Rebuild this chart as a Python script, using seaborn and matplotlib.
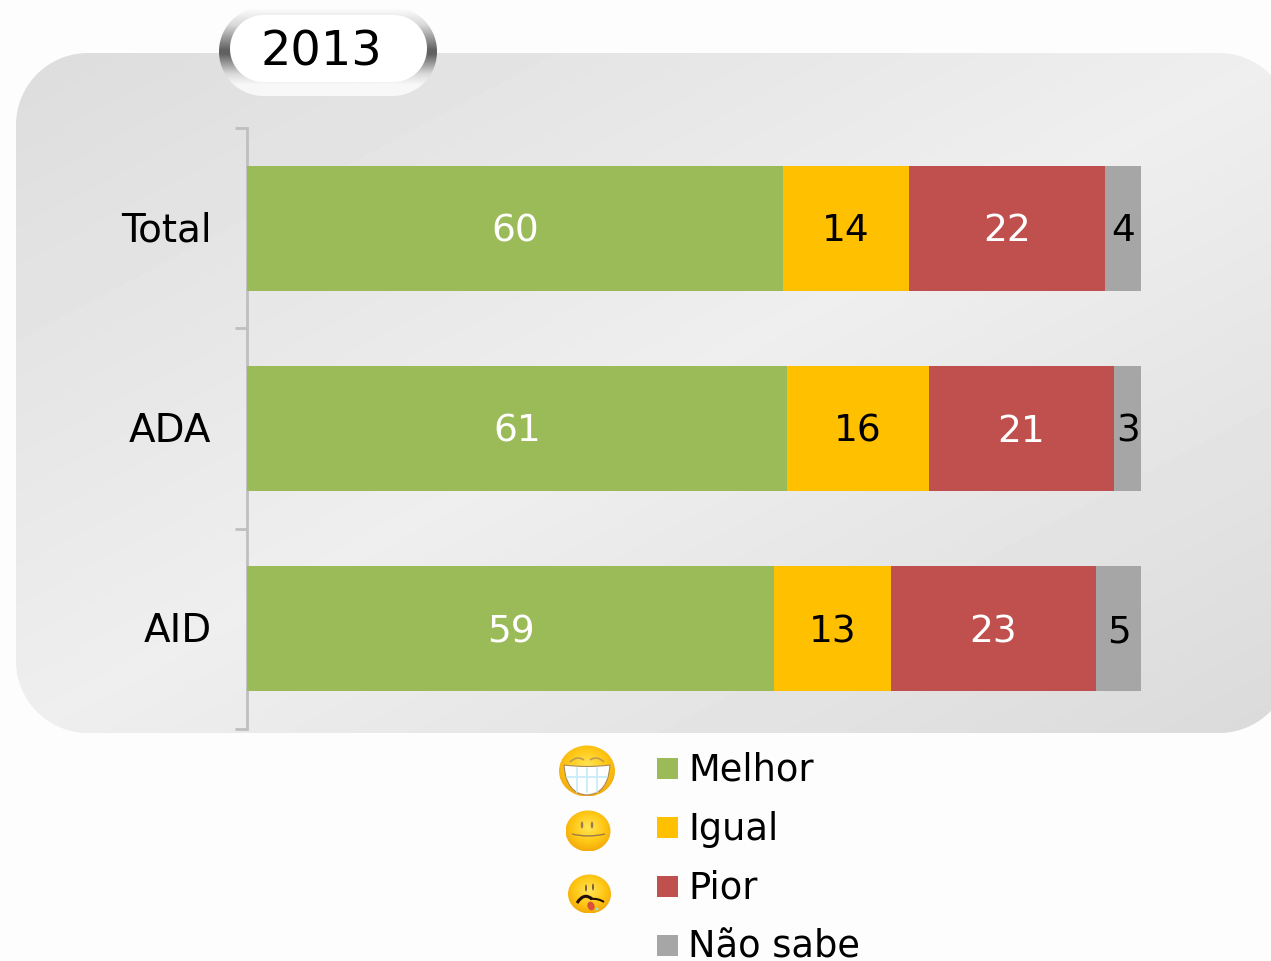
#!/usr/bin/env python3
# coding=utf-8

from matplotlib import pyplot as plt
from matplotlib.patches import Circle, Ellipse, PathPatch, Rectangle
from matplotlib.path import Path
from matplotlib.transforms import ScaledTranslation
import numpy as np
import pandas as pd
import seaborn as sns

W, H = 1271, 961

groups = ['Total', 'ADA', 'AID']
series = ['Melhor', 'Igual', 'Pior', 'Não sabe']
melhor = [60, 61, 59]
igual = [14, 16, 13]
pior = [22, 21, 23]
nao_sabe = [4, 3, 5]
colors = ['#9BBB59', '#FFC000', '#C0504D', '#A6A6A6']
label_colors = ['white', 'black', 'white', 'black']
year = '2013'

sns.set_theme(style='white')
plt.rcParams['font.family'] = ['DejaVu Sans']

fig = plt.figure(figsize=(W / 100, H / 100), dpi=100, facecolor='#fdfdfd')

# pixel-coordinate layer for the decoration behind the chart
bg = fig.add_axes([0, 0, 1, 1], zorder=0)
bg.set_xlim(0, W)
bg.set_ylim(H, 0)
bg.axis('off')


def gradient(ax, vals, box, clip, cmap='gray'):
    im = ax.imshow(vals, extent=box, cmap=cmap, vmin=0, vmax=1, aspect='auto',
                   interpolation='bilinear')
    im.set_clip_path(clip)
    ax.set_xlim(0, W)
    ax.set_ylim(H, 0)
    return im


def rounded(ax, x0, y0, x1, y1, r, **kw):
    # true circular corners, boxstyle round comes out too square
    t = np.linspace(0, np.pi / 2, 30)
    pts = np.vstack([
        np.c_[x1 - r + r * np.sin(t), y0 + r - r * np.cos(t)],
        np.c_[x1 - r + r * np.cos(t), y1 - r + r * np.sin(t)],
        np.c_[x0 + r - r * np.sin(t), y1 - r + r * np.cos(t)],
        np.c_[x0 + r - r * np.cos(t), y0 + r - r * np.sin(t)],
    ])
    p = plt.Polygon(pts, closed=True, **kw)
    ax.add_patch(p)
    return p


# rounded grey panel
panel = rounded(bg, 16, 53, 1291, 733, 72, fc='none', ec='none')
gx, gy = np.meshgrid(np.linspace(0, 1, 200), np.linspace(0, 1, 200))
gradient(bg, np.interp((gx + gy) / 2, [0, 0.5, 1], [0.865, 0.935, 0.855]),
         (16, 1291, 733, 53), panel)

# year badge
ring = rounded(bg, 219, 7, 437, 96, 44.5, fc='none', ec='none')
ramp = np.interp(np.linspace(0, 1, 200), [0, 0.2, 0.48, 0.53, 0.75, 0.87, 1],
                 [1, 0.85, 0.38, 0.38, 0.85, 0.97, 0.97]).reshape(-1, 1)
gradient(bg, ramp, (219, 437, 96, 7), ring)
rounded(bg, 230, 15, 427, 82, 33.5, fc='white', ec='none')
inner = rounded(bg, 234, 19, 423, 78, 29.5, fc='none', ec='none')
gradient(bg, np.linspace(0.93, 0.975, 50).reshape(-1, 1), (234, 423, 78, 19), inner)
bg.text(321, 52, year, fontsize=34.5, color='black', ha='center', va='center')


# stacked bars, drawn back to front from the cumulative share of each row
ax = fig.add_axes([247 / W, 1 - 729 / H, 894 / W, 601 / H], zorder=1)
ax.patch.set_alpha(0)

df = pd.DataFrame({'group': groups, 'Melhor': melhor, 'Igual': igual, 'Pior': pior, 'Não sabe': nao_sabe})
total = df[series].sum(axis=1)
cum = df[series].cumsum(axis=1).div(total, axis=0) * 100

for i in reversed(range(len(series))):
    sns.barplot(x=cum[series[i]], y=df['group'], orient='h', color=colors[i], saturation=1,
                width=0.624, linewidth=0, ax=ax)

for i, name in enumerate(series):
    for j in range(len(groups)):
        right = cum[name][j]
        left = cum[series[i - 1]][j] if i > 0 else 0
        ax.text((left + right) / 2, j + 0.016, str(df[name][j]), color=label_colors[i], fontsize=27,
                ha='center', va='center')

ax.set_xlim(0, 100)
ax.set_ylim(2.5, -0.5)
ax.set_xlabel('')
ax.set_ylabel('')
ax.set_xticks([])
for s in ['top', 'right', 'bottom']:
    ax.spines[s].set_visible(False)
ax.spines['left'].set_color('#BFBFBF')
ax.spines['left'].set_linewidth(2)
ax.spines['left'].set_zorder(0.5)
ax.set_yticks([-0.5, 0.5, 1.5, 2.5], minor=True)
ax.tick_params(axis='y', which='minor', left=True, length=9, width=2, color='#BFBFBF')
ax.tick_params(axis='y', which='major', left=False, pad=19.5, labelsize=28, labelcolor='black')
for lab in ax.get_yticklabels():
    lab.set_transform(lab.get_transform() + ScaledTranslation(0, 2 / 100, fig.dpi_scale_trans))

# legend
fg = fig.add_axes([0, 0, 1, 1], zorder=2)
fg.set_xlim(0, W)
fg.set_ylim(H, 0)
fg.axis('off')
fg.patch.set_alpha(0)
for i, name in enumerate(series):
    y = 768 + 59 * i
    fg.add_patch(Rectangle((657, y - 10.5), 21, 21, fc=colors[i], ec='none'))
    fg.text(688, y - 2, name, fontsize=26.5, color='black', ha='left', va='center_baseline')


# smileys
def face(a, cx, cy, rx, ry):
    c = Ellipse((cx, cy), 2 * rx, 2 * ry, fc='none', ec='none')
    a.add_patch(c)
    u, v = np.meshgrid(np.linspace(-1, 1, 80), np.linspace(-1, 1, 80))
    d = np.clip(np.sqrt(u ** 2 + (v + 0.15) ** 2), 0, 1.2) / 1.2
    rgb = np.zeros((80, 80, 3))
    rgb[..., 0] = np.interp(d, [0, 0.6, 1], [1.0, 1.0, 0.95])
    rgb[..., 1] = np.interp(d, [0, 0.6, 1], [0.90, 0.78, 0.66])
    rgb[..., 2] = np.interp(d, [0, 0.6, 1], [0.35, 0.08, 0.04])
    im = a.imshow(rgb, extent=(cx - rx, cx + rx, cy + ry, cy - ry), aspect='auto', interpolation='bilinear')
    im.set_clip_path(c)
    a.set_xlim(0, W)
    a.set_ylim(H, 0)


def curve(a, pts, **kw):
    codes = [Path.MOVETO] + [Path.CURVE3] * (len(pts) - 1)
    a.add_patch(PathPatch(Path(pts, codes), fc='none', **kw))


# grin
face(fg, 587, 771, 28, 25.5)
grin = Path([(564, 765), (587, 768), (610, 765), (608, 794), (587, 795), (566, 794), (564, 765)],
            [Path.MOVETO, Path.CURVE3, Path.CURVE3, Path.CURVE3, Path.CURVE3, Path.CURVE3, Path.CURVE3])
fg.add_patch(PathPatch(grin, fc='white', ec='#a98a5a', lw=0.8))
for tx in [577, 587, 597]:
    fg.plot([tx, tx], [768, 792], color='#c8ecf8', lw=1.3)
fg.plot([567, 607], [777, 777], color='#c8ecf8', lw=1.3)
curve(fg, [(570, 762), (577, 755), (584, 760)], ec='#c09a50', lw=1.2)
curve(fg, [(590, 760), (597, 755), (604, 762)], ec='#c09a50', lw=1.2)

# neutral
face(fg, 588, 831, 22.5, 20.5)
for ex in [582, 592]:
    fg.add_patch(Ellipse((ex, 825), 2.5, 7, fc='#9a7a4a', ec='none'))
curve(fg, [(572, 834), (588, 838), (605, 834)], ec='#9a7a4a', lw=1.0)

# sick
face(fg, 589.5, 894, 21.5, 19.5)
for ex, ey in [(586, 888), (593, 887)]:
    fg.add_patch(Ellipse((ex, ey), 2, 7, fc='#7a5a3a', ec='none'))
curve(fg, [(577, 903), (584, 892), (592, 899)], ec='#201008', lw=2.2)
curve(fg, [(590, 899), (598, 898), (604, 902)], ec='#201008', lw=1.5)
fg.add_patch(Ellipse((591, 906), 7, 9, angle=-20, fc='#d8503a', ec='none'))
fg.add_patch(Circle((597, 909), 1.5, fc='#a8d8c8', ec='none'))

fig.savefig('out.png', dpi=100, facecolor=fig.get_facecolor())
